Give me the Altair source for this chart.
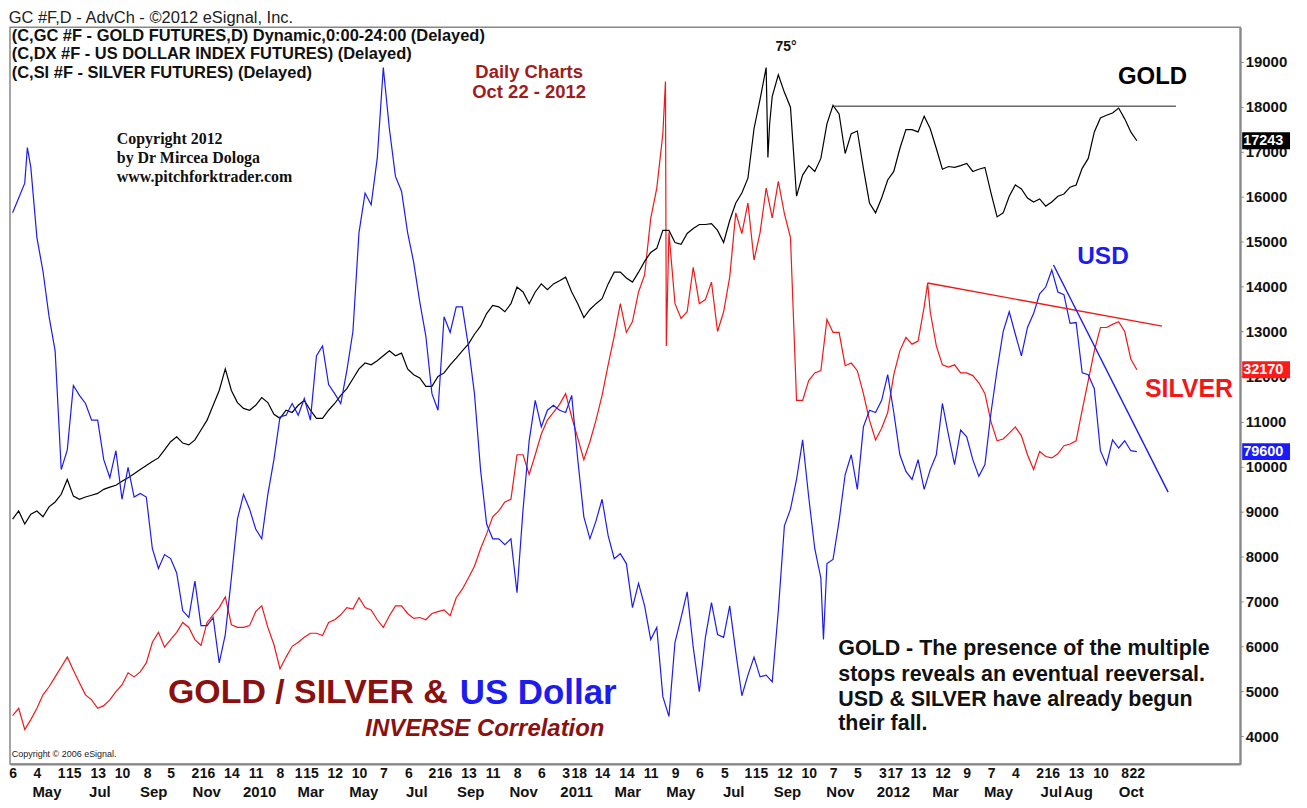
import altair as alt
import pandas as pd

# ---------------- data (values in the chart's right-axis units) ----------------
week_start = "2009-04-06"   # weekly closes, Monday dates

gold = [
    8830, 9010, 8720, 8940, 9010, 8880, 9100, 9210, 9380, 9710,
    9340, 9270, 9320, 9360, 9400, 9490, 9540, 9580, 9670, 9750,
    9840, 9930, 10020, 10110, 10190, 10370, 10550, 10660, 10520, 10480,
    10590, 10810, 11030, 11360, 11690, 12170, 11690, 11420, 11290, 11250,
    11360, 11530, 11420, 11160, 11070, 11250, 11200, 11360, 11470, 11250,
    11070, 11070, 11250, 11400, 11580, 11730, 11950, 12170, 12300, 12260,
    12350, 12460, 12570, 12460, 12520, 12170, 12040, 11970, 11780, 11780,
    12000, 12080, 12260, 12410, 12570, 12720, 12940, 13120, 13400, 13580,
    13550, 13440, 13620, 13990, 13880, 13620, 13880, 14060, 13930, 14060,
    14130, 14210, 13880, 13620, 13310, 13490, 13620, 13730, 14060, 14320,
    14320, 14190, 14100, 14320, 14560, 14760, 14850, 15250, 15250, 14980,
    14940, 15180, 15290, 15380, 15380, 15400, 15250, 14980, 15470, 15860,
    16080, 16410, 17510, 18170, 18870, 18230, 18710, 18320, 17990, 16010,
    16480, 16690, 16560, 16850, 17620, 18030, 17840, 16960, 17400, 17460,
    16630, 15860, 15640, 15970, 16370, 16560, 17070, 17490, 17490, 17440,
    17790, 17510, 17070, 16610, 16670, 16650, 16690, 16740, 16560, 16610,
    16650, 16080, 15550, 15640, 16010, 16260, 16170, 15970, 15880, 15950,
    15790, 15880, 16010, 16060, 16210, 16260, 16630, 16850, 17440, 17750,
    17810, 17860, 17970, 17730, 17440, 17243,
]
silver = [
    4460, 4620, 4150, 4370, 4620, 4920, 5100, 5320, 5540, 5760,
    5470, 5190, 4920, 4810, 4620, 4680, 4810, 4990, 5140, 5410,
    5320, 5430, 5630, 6090, 6310, 5980, 6150, 6310, 6530, 6420,
    6150, 6020, 6530, 6700, 6860, 7100, 6480, 6420, 6420, 6460,
    6770, 6900, 6420, 6040, 5500, 5760, 6000, 6090, 6200, 6290,
    6290, 6240, 6530, 6590, 6700, 6860, 6830, 7080, 6860, 6810,
    6590, 6420, 6680, 6900, 6900, 6730, 6620, 6640, 6590, 6730,
    6770, 6810, 6680, 7080, 7270, 7520, 7780, 8170, 8500, 8880,
    9010, 9210, 9270, 10260, 10260, 9820, 10260, 10720, 11030, 11200,
    11380, 11620, 11100, 10630, 10150, 10550, 11030, 11580, 12260, 12900,
    13620, 12980, 13220, 13880, 14260, 15510, 16190, 17400, 15200, 13620,
    13290, 13440, 14430, 13620, 13710, 14100, 13000, 13440, 14210, 15640,
    15180, 15860, 14590, 15200, 16190, 15530, 16340, 15620, 15090, 11470,
    11470, 11910, 12080, 12130, 13270, 12980, 12980, 12240, 12300, 12130,
    11620, 11030, 10590, 10850, 11200, 12040, 12570, 12870, 12720, 12790,
    13550, 13440, 12680, 12260, 12210, 12260, 12080, 12080, 12020, 11860,
    11620, 10990, 10570, 10610, 10740, 10880, 10680, 10260, 9930, 10330,
    10220, 10190, 10280, 10460, 10500, 10570, 11250, 11910, 12570, 13090,
    13090, 13160, 13220, 13000, 12390, 12150,
]
usd = [
    15640, 15970, 16300, 16650, 15090, 14340, 13330, 12570, 9930, 10370,
    11800, 11580, 11400, 11030, 11030, 10150, 9750, 10350, 9270, 9980,
    9320, 9400, 9320, 8170, 7730, 8040, 7950, 7630, 6790, 6640,
    7450, 6460, 6460, 6640, 5630, 6260, 7520, 8830, 9380, 9050,
    8610, 8390, 9380, 10150, 11100, 11140, 11400, 11140, 11510, 11030,
    12460, 12680, 11820, 11620, 11400, 12130, 13000, 15200, 16080, 15820,
    16850, 18870, 17510, 16450, 16120, 15200, 14540, 13660, 12900, 11620,
    11250, 13330, 12980, 13550, 13550, 12680, 11620, 9930, 8720, 8390,
    8390, 8260, 8390, 7190, 9050, 10570, 11470, 10880, 11250, 11360,
    11250, 11200, 11580, 10150, 8880, 8390, 8790, 9270, 8460, 7950,
    8060, 7840, 6860, 7400, 6900, 6150, 6420, 4880, 4440, 6090,
    6640, 7210, 5980, 4990, 6200, 6970, 6260, 6200, 6900, 5870,
    4900, 5360, 5760, 5320, 5360, 5210, 6790, 8680, 9050, 9710,
    10590, 9320, 8170, 7520, 7840, 7930, 8790, 9820, 10260, 9490,
    10880, 11250, 11200, 11470, 12040, 11200, 10260, 9890, 9710, 10150,
    9490, 9930, 10260, 11400, 10700, 10040, 10810, 10660, 10150, 9780,
    10040, 11200, 12150, 13000, 13440, 12940, 12460, 13090, 13400, 13840,
    13990, 14370, 13880, 13820, 13180, 13200, 12080, 12040, 11730, 10350,
    10040, 10590, 10410, 10570, 10350, 10330,
]

# single-day extremes between the weekly points
gold_extra_dates = ["2011-08-24", "2011-08-26"]
gold_extra_vals = [16870, 17620]
silver_extra_dates = ["2011-04-28", "2011-04-29", "2012-02-24"]
silver_extra_vals = [18560, 12680, 14080]
usd_extra_dates = ["2009-04-23", "2011-10-27"]
usd_extra_vals = [17090, 6150]

# last-value tags on the right axis
tag_text = ["17243", "32170", "79600"]

# trend / resistance lines
trend_start = ["2011-11-08", "2012-02-24", "2012-07-18"]
trend_end = ["2012-12-06", "2012-11-20", "2012-11-27"]
trend_v1 = [18010, 14080, 14480]
trend_v2 = [18010, 13120, 9430]
trend_color = ["#666666", "#f01818", "#1c1cf0"]

# axis ticks
day_ticks = [
    "2009-04-06", "2009-05-04", "2009-06-01", "2009-06-15", "2009-07-13", "2009-08-10",
    "2009-09-08", "2009-10-05", "2009-11-02", "2009-11-16", "2009-12-14",
    "2010-01-11", "2010-02-08", "2010-03-01", "2010-03-15", "2010-04-12", "2010-05-10",
    "2010-06-07", "2010-07-06", "2010-08-02", "2010-08-16", "2010-09-13", "2010-10-11",
    "2010-11-08", "2010-12-06",
    "2011-01-03", "2011-01-18", "2011-02-14", "2011-03-14", "2011-04-11", "2011-05-09",
    "2011-06-06", "2011-07-05", "2011-08-01", "2011-08-15", "2011-09-12", "2011-10-10",
    "2011-11-07", "2011-12-05",
    "2012-01-03", "2012-01-17", "2012-02-13", "2012-03-12", "2012-04-09", "2012-05-07",
    "2012-06-04", "2012-07-02", "2012-07-16", "2012-08-13", "2012-09-10", "2012-10-08",
    "2012-10-22",
]
month_ticks = [
    "2009-05-15", "2009-07-15", "2009-09-15", "2009-11-15", "2010-01-15", "2010-03-15",
    "2010-05-15", "2010-07-15", "2010-09-15", "2010-11-15", "2011-01-15", "2011-03-15",
    "2011-05-15", "2011-07-15", "2011-09-15", "2011-11-15", "2012-01-15", "2012-03-15",
    "2012-05-15", "2012-07-15", "2012-08-15", "2012-10-15",
]
y_ticks = list(range(4000, 20000, 1000))

# annotation texts (anchored in date / axis-value units)
hdr_lines = ["(C,GC #F - GOLD FUTURES,D) Dynamic,0:00-24:00 (Delayed)",
             "(C,DX #F - US DOLLAR INDEX FUTURES)  (Delayed)",
             "(C,SI #F - SILVER FUTURES)  (Delayed)"]
hdr_vals = [19571, 19176, 18759]
copy_lines = ["Copyright 2012", "by Dr Mircea Dologa", "www.pitchforktrader.com"]
copy_vals = [17290, 16850, 16430]
daily_lines = ["Daily Charts", "Oct 22 - 2012"]
daily_vals = [18780, 18320]
note_lines = ["GOLD - The presence of the multiple",
              "stops reveals an eventual reeversal.",
              "USD & SILVER have already begun",
              "their fall."]
note_vals = [5935, 5364, 4815, 4266]

FONT = "Liberation Sans"
C_GOLD, C_SILVER, C_USD, C_DARKRED = "#000000", "#f01818", "#1c1cf0", "#8b1111"
W, H = 1234, 739


def dt(s):
    return alt.DateTime(year=int(s[:4]), month=int(s[5:7]), date=int(s[8:10]))


def series_frame(name, vals, ex_dates, ex_vals):
    d = pd.DataFrame({"date": pd.date_range(week_start, periods=len(vals), freq="7D"),
                      "value": vals})
    e = pd.DataFrame({"date": pd.to_datetime(ex_dates), "value": ex_vals})
    d = pd.concat([d, e]).sort_values("date").reset_index(drop=True)
    d["series"] = name
    d["order"] = range(len(d))
    return d


lines_df = pd.concat([
    series_frame("SILVER", silver, silver_extra_dates, silver_extra_vals),
    series_frame("GOLD", gold, gold_extra_dates, gold_extra_vals),
    series_frame("USD", usd, usd_extra_dates, usd_extra_vals),
])

x_scale = alt.Scale(domain=[dt("2009-04-03"), dt("2013-02-18")])
y_scale = alt.Scale(domain=[3385, 19769], nice=False, zero=False)

day_axis = alt.Axis(values=[dt(s) for s in day_ticks], labelExpr="date(datum.value)",
                    title=None, orient="bottom", grid=False, ticks=False,
                    labelOverlap=False, labelFlush=False, labelFont=FONT,
                    labelFontSize=14, labelFontWeight="bold", labelColor="#111",
                    labelPadding=3, domainColor="#888", domainWidth=2)
month_axis = alt.Axis(values=[dt(s) for s in month_ticks],
                      labelExpr="month(datum.value) == 0 ? '' + year(datum.value) : timeFormat(datum.value, '%b')",
                      title=None, orient="bottom", offset=19, grid=False, ticks=False,
                      domain=False, labelOverlap=False, labelFlush=False, labelFont=FONT,
                      labelFontSize=15, labelFontWeight="bold", labelColor="#111",
                      labelPadding=2)
y_axis = alt.Axis(orient="right", values=y_ticks, format="d", title=None, grid=False,
                  labelFont=FONT, labelFontSize=15, labelFontWeight="bold",
                  labelColor="#111", domainColor="#888", domainWidth=2,
                  tickColor="#888", tickSize=3, labelPadding=2)

lines = alt.Chart(lines_df).mark_line(strokeWidth=1.2).encode(
    x=alt.X("date:T", scale=x_scale, axis=day_axis),
    y=alt.Y("value:Q", scale=y_scale, axis=y_axis),
    color=alt.Color("series:N", legend=None,
                    scale=alt.Scale(domain=["GOLD", "SILVER", "USD"],
                                    range=[C_GOLD, C_SILVER, C_USD])),
    detail="series:N",
    order="order:Q",
)

trend_df = pd.DataFrame({"date": pd.to_datetime(trend_start), "date2": pd.to_datetime(trend_end),
                         "value": trend_v1, "value2": trend_v2, "color": trend_color})
trends = alt.Chart(trend_df).mark_rule(strokeWidth=1.4).encode(
    x=alt.X("date:T", axis=None), x2="date2:T",
    y=alt.Y("value:Q"), y2="value2:Q",
    color=alt.Color("color:N", scale=None),
)

# last-value tags
tags_df = pd.DataFrame({"value": [gold[-1], silver[-1], usd[-1]], "label": tag_text,
                        "color": ["#000000", "#ff1a1a", "#1a1aff"]})
tag_box = alt.Chart(tags_df).mark_rule(strokeWidth=17).encode(
    x=alt.value(W + 2), x2=alt.value(W + 50), y=alt.Y("value:Q"),
    color=alt.Color("color:N", scale=None))
tag_txt = alt.Chart(tags_df).mark_text(align="left", baseline="middle", font=FONT,
                                       fontSize=14.5, fontWeight="bold", color="white").encode(
    x=alt.value(W + 3), y=alt.Y("value:Q"), text="label:N")


def text_layer(dates, vals, texts, axis=None, **kw):
    df = pd.DataFrame({"date": pd.to_datetime(dates), "value": vals, "text": texts})
    return alt.Chart(df).mark_text(baseline="middle", **kw).encode(
        x=alt.X("date:T", axis=axis), y=alt.Y("value:Q"), text="text:N")


hdr = text_layer(["2009-04-05"] * 3, hdr_vals, hdr_lines, align="left", font=FONT,
                 fontSize=16.5, fontWeight="bold", color="#111")
copy = text_layer(["2009-08-04"] * 3, copy_vals, copy_lines, align="left",
                  font="Liberation Serif", fontSize=16, fontWeight="bold", color="#111")
daily = text_layer(["2010-11-22"] * 2, daily_vals, daily_lines, align="center", font=FONT,
                   fontSize=18.5, fontWeight="bold", color="#a01c1c")
deg = text_layer(["2011-09-14"], [19330], ["75°"], align="center", font=FONT,
                 fontSize=14, fontWeight="bold", color="#111")
lbl_gold = text_layer(["2012-11-09"], [18650], ["GOLD"], align="center", font=FONT,
                      fontSize=24, fontWeight="bold", color=C_GOLD)
lbl_usd = text_layer(["2012-09-13"], [14650], ["USD"], align="center", font=FONT,
                     fontSize=24.5, fontWeight="bold", color=C_USD)
lbl_silver = text_layer(["2012-12-21"], [11730], ["SILVER"], align="center", font=FONT,
                        fontSize=25, fontWeight="bold", color=C_SILVER)
big1 = text_layer(["2009-10-02"], [4950], ["GOLD / SILVER &"], align="left", font=FONT,
                  fontSize=34, fontWeight="bold", color=C_DARKRED)
big2 = text_layer(["2010-09-03"], [4950], ["US Dollar"], align="left", font=FONT,
                  fontSize=35, fontWeight="bold", color=C_USD)
inverse = text_layer(["2010-10-02"], [4155], ["INVERSE Correlation"], axis=month_axis,
                     align="center", font=FONT, fontSize=24, fontWeight="bold",
                     fontStyle="italic", color=C_DARKRED)
note = text_layer(["2011-11-13"] * 4, note_vals, note_lines, align="left", font=FONT,
                  fontSize=21.5, fontWeight="bold", color="#111")
esig = text_layer(["2009-04-05"], [3606], ["Copyright © 2006 eSignal."], align="left",
                  font=FONT, fontSize=9, color="#222")

chart = alt.layer(
    lines, trends, tag_box, tag_txt, hdr, copy, daily, deg,
    lbl_gold, lbl_usd, lbl_silver, big1, big2, inverse, note, esig,
).resolve_axis(x="independent").properties(
    width=W, height=H,
    title=alt.TitleParams("GC #F,D - AdvCh - ©2012 eSignal, Inc.", anchor="start",
                          fontSize=16.5, fontWeight="normal", font=FONT, color="#222",
                          offset=1),
    padding={"left": 0, "top": 0, "right": 0, "bottom": 0},
).configure_view(stroke="#888", strokeWidth=1.5)

chart.save("out.html", embed_options={"renderer": "svg", "actions": False})
